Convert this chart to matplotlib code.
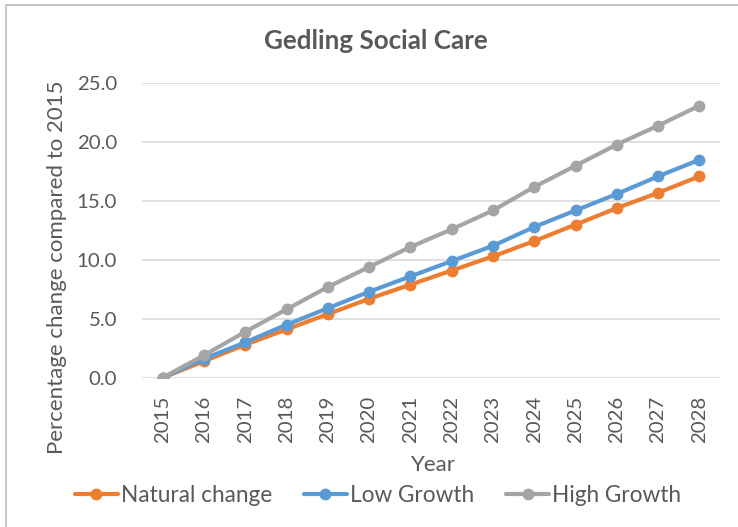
import matplotlib
matplotlib.use("Agg")
import matplotlib.pyplot as plt
from matplotlib.patches import Rectangle

plt.rcParams['font.family'] = ['Lato', 'DejaVu Sans']

years = ["2015", "2016", "2017", "2018", "2019", "2020", "2021",
         "2022", "2023", "2024", "2025", "2026", "2027", "2028"]
natural_change = [0.0, 1.4, 2.8, 4.1, 5.4, 6.7, 7.9, 9.1, 10.3, 11.6, 13.0, 14.4, 15.7, 17.1]
low_growth = [0.0, 1.6, 3.0, 4.5, 5.9, 7.3, 8.6, 9.9, 11.2, 12.8, 14.2, 15.6, 17.1, 18.5]
high_growth = [0.0, 1.9, 3.9, 5.8, 7.7, 9.4, 11.1, 12.6, 14.2, 16.2, 18.0, 19.8, 21.4, 23.1]
yticks = [0.0, 5.0, 10.0, 15.0, 20.0, 25.0]

W, H = 738, 527
fig = plt.figure(figsize=(W / 100, H / 100), dpi=100)
fig.patches.append(Rectangle((6 / W, -0.1), 1.2, (527 - 5) / H + 0.1,
                             transform=fig.transFigure, fill=False,
                             edgecolor='#bfbfbf', linewidth=1.2))

ax = fig.add_axes([142 / W, (H - 377.7) / H, 578 / W, 294.4 / H])
x = list(range(len(years)))
text_c = '#595959'
series = [("Natural change", natural_change, '#ed7d31'),
          ("Low Growth", low_growth, '#5b9bd5'),
          ("High Growth", high_growth, '#a5a5a5')]
for name, vals, c in series:
    ax.plot(x, vals, color=c, linewidth=3.0, marker='o', markersize=7.5,
            label=name, solid_capstyle='round')

ax.set_xlim(-0.5, len(years) - 0.5)
ax.set_ylim(0, 25)
ax.set_yticks(yticks)
ax.set_yticklabels([f"{v:.1f}" for v in yticks], fontsize=14.7, color=text_c)
ax.set_xticks(x)
ax.set_xticklabels(years, rotation=90, fontsize=14.7, color=text_c)
ax.tick_params(axis='both', length=0)
ax.tick_params(axis='x', pad=13)
ax.tick_params(axis='y', pad=18)
ax.grid(axis='y', color='#d9d9d9', linewidth=1.2)
ax.set_axisbelow(True)
for s in ax.spines.values():
    s.set_visible(False)

ax.set_xlabel("Year", fontsize=16, color=text_c)
ax.xaxis.set_label_coords((433 - 142) / 578, (377.7 - 455) / 294.4)
ax.set_ylabel("Percentage change compared to 2015", fontsize=16, color=text_c)
ax.yaxis.set_label_coords((67 - 142) / 578, (377.7 - 267) / 294.4)
fig.text(376 / W, 1 - 41 / H, "Gedling Social Care", fontsize=18.7, fontweight='bold',
         color=text_c, ha='center', va='center')

leg = fig.legend(loc='center', bbox_to_anchor=(378 / W, 1 - 495 / H), ncol=3,
                 frameon=False, fontsize=16.3, handlelength=1.9, handletextpad=0.15,
                 columnspacing=1.4, labelcolor=text_c, borderaxespad=0, borderpad=0)

fig.savefig("out.png", dpi=100)
